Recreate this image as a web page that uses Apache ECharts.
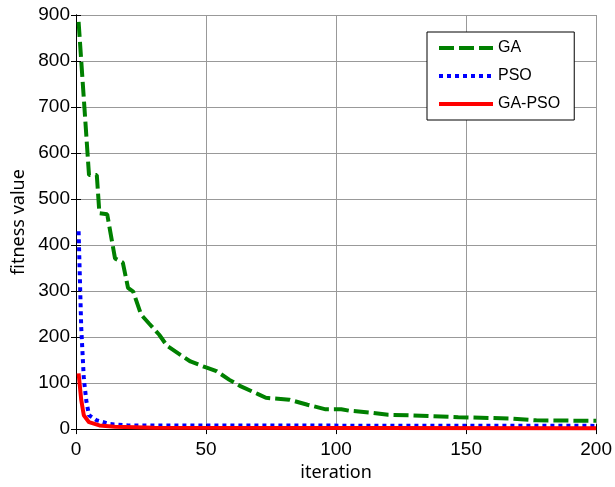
<!DOCTYPE html>
<html>
<head>
<meta charset="utf-8">
<script src="https://cdn.jsdelivr.net/npm/echarts@6/dist/echarts.min.js"></script>
<style>
  html, body { margin: 0; padding: 0; background: #fff; }
  #chart { width: 615px; height: 487px; }
</style>
</head>
<body>
<div id="chart"></div>
<script>
// iteration / fitness pairs
const gaX = [1, 5, 8, 9, 12, 15, 18, 20, 22, 25, 28, 32, 35, 40, 44, 50, 54, 59, 63, 70, 73, 82, 89, 96, 102, 105, 113, 120, 128, 147, 167, 177, 200];
const gaY = [885, 552, 552, 469, 467, 371, 362, 307, 299, 249, 230, 205, 181, 162, 147, 134, 126, 107, 94, 76, 68, 64, 53, 43, 43, 40, 36, 31, 30, 26, 23, 19, 18];

const psoX = [1, 2, 3, 4, 5, 8, 13, 20, 200];
const psoY = [430, 222, 110, 60, 30, 19, 11, 8, 7];

const gapsoX = [1, 2, 3, 5, 9, 15, 30, 200];
const gapsoY = [121, 64, 30, 15, 8, 5, 3, 2];

const xTicks = [0, 50, 100, 150, 200];
const yTicks = [0, 100, 200, 300, 400, 500, 600, 700, 800, 900];

const zip = (xs, ys) => xs.map((x, i) => [x, ys[i]]);

const tickFont = { fontFamily: 'Liberation Sans', fontSize: 19, color: '#000' };
const nameFont = { fontFamily: 'Noto Sans', fontSize: 18, color: '#000' };

const chart = echarts.init(document.getElementById('chart'));

const option = {
  animation: false,
  grid: { left: 76, right: 18, top: 15, bottom: 50 },
  legend: {
    orient: 'vertical',
    left: 427,
    top: 32,
    itemWidth: 54,
    itemHeight: 14,
    itemGap: 12,
    padding: [8, 14, 8, 10],
    borderColor: '#000',
    borderWidth: 1,
    backgroundColor: '#fff',
    itemStyle: { opacity: 0 },
    lineStyle: { width: 4 },
    textStyle: { fontFamily: 'Liberation Sans', fontSize: 16, color: '#000' },
    data: ['GA', 'PSO', 'GA-PSO']
  },
  xAxis: [
    {
      type: 'value',
      min: xTicks[0],
      max: xTicks[xTicks.length - 1],
      interval: 50,
      name: 'iteration',
      nameLocation: 'middle',
      nameGap: 33,
      nameTextStyle: nameFont,
      axisLine: { lineStyle: { color: '#000', width: 1 } },
      axisTick: { inside: true, length: 5, lineStyle: { color: '#000' } },
      axisLabel: Object.assign({ margin: 11 }, tickFont),
      splitLine: { show: true, lineStyle: { color: '#999', width: 1 } }
    },
    {
      type: 'value',
      position: 'top',
      min: 0, max: 200, interval: 50,
      axisLine: { show: true, lineStyle: { color: '#000', width: 1 } },
      axisTick: { show: true, inside: true, length: 5, lineStyle: { color: '#000' } },
      axisLabel: { show: false },
      splitLine: { show: false }
    }
  ],
  yAxis: [
    {
      type: 'value',
      min: yTicks[0],
      max: yTicks[yTicks.length - 1],
      interval: 100,
      name: 'fitness value',
      nameLocation: 'middle',
      nameGap: 47,
      nameTextStyle: nameFont,
      axisLine: { show: true, lineStyle: { color: '#000', width: 1 } },
      axisTick: { show: true, inside: true, length: 5, lineStyle: { color: '#000' } },
      axisLabel: Object.assign({ margin: 6 }, tickFont),
      splitLine: { show: true, lineStyle: { color: '#999', width: 1 } }
    },
    {
      type: 'value',
      position: 'right',
      min: 0, max: 900, interval: 100,
      axisLine: { show: true, lineStyle: { color: '#000', width: 1 } },
      axisTick: { show: true, inside: true, length: 5, lineStyle: { color: '#000' } },
      axisLabel: { show: false },
      splitLine: { show: false }
    }
  ],
  series: [
    {
      name: 'GA',
      type: 'line',
      data: zip(gaX, gaY),
      symbol: 'none',
      clip: false,
      color: '#008000',
      lineStyle: { color: '#008000', width: 4, type: [15, 5] }
    },
    {
      name: 'PSO',
      type: 'line',
      data: zip(psoX, psoY),
      symbol: 'none',
      clip: false,
      color: '#0000ff',
      lineStyle: { color: '#0000ff', width: 4, type: [4, 4] }
    },
    {
      name: 'GA-PSO',
      type: 'line',
      data: zip(gapsoX, gapsoY),
      symbol: 'none',
      clip: false,
      color: '#ff0000',
      lineStyle: { color: '#ff0000', width: 4 }
    }
  ]
};

chart.setOption(option);
</script>
</body>
</html>
